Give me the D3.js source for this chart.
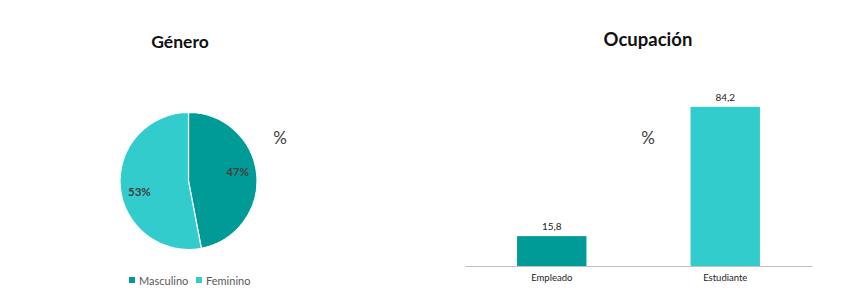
<!DOCTYPE html>
<html><head><meta charset="utf-8">
<script src="https://cdn.jsdelivr.net/npm/d3@7"></script>
<style>body{margin:0;background:#fff;font-family:Lato,"Open Sans",sans-serif}</style>
</head><body><svg id="c" width="847" height="298"></svg>
<script>
const genderCats = ["Masculino", "Feminino"];
const genderVals = [47, 53];
const genderLabels = ["47%", "53%"];
const occCats = ["Empleado", "Estudiante"];
const occVals = [15.8, 84.2];
const occLabels = ["15,8", "84,2"];
const colors = ["#009b96", "#33cccc"];

const svg = d3.select("#c");
svg.append("rect").attr("width",847).attr("height",298).attr("fill","#fff");

// ---- Pie ----
const cx = 188.5, cy = 181, r = 68.5;
const pie = d3.pie().sort(null).value(d => d)(genderVals);
const arc = d3.arc().innerRadius(0).outerRadius(r);
const g = svg.append("g").attr("transform", `translate(${cx},${cy})`);
g.selectAll("path").data(pie).enter().append("path")
  .attr("d", arc).attr("fill", (d,i) => colors[i])
  .attr("stroke", "#fff").attr("stroke-width", 1.2);
const lab = d3.arc().innerRadius(r*0.72).outerRadius(r*0.72);
const labShift = [-4, 6];
g.selectAll("text.l").data(pie).enter().append("text")
  .attr("x", d => lab.centroid(d)[0]).attr("y", (d,i) => lab.centroid(d)[1] + labShift[i])
  .attr("text-anchor","middle").attr("dy","0.35em")
  .attr("font-size", 11.5).attr("font-weight","bold").attr("fill","#404040")
  .text((d,i) => genderLabels[i]);

svg.append("text").attr("x",180).attr("y",48).attr("text-anchor","middle")
  .attr("font-size",17.5).attr("font-weight","bold").attr("fill","#111").text("Género");
svg.append("text").attr("x",280).attr("y",144).attr("text-anchor","middle")
  .attr("font-size",17).attr("fill","#404040").text("%");

// legend
const leg = svg.append("g");
const legX = [129, 196];
genderCats.forEach((c,i) => {
  leg.append("rect").attr("x", legX[i]).attr("y", 277).attr("width",6).attr("height",6).attr("fill", colors[i]);
  leg.append("text").attr("x", legX[i]+10).attr("y", 284.5).attr("font-size",11).attr("fill","#595959").text(c);
});

// ---- Bars ----
const x = d3.scaleBand().domain(occCats).range([465, 812]).paddingInner(0.6).paddingOuter(0.3);
const y = d3.scaleLinear().domain([0, 100]).range([266, 77]);
svg.selectAll("rect.b").data(occVals).enter().append("rect")
  .attr("x", (d,i) => x(occCats[i])).attr("width", x.bandwidth())
  .attr("y", d => y(d)).attr("height", d => y(0) - y(d))
  .attr("fill", (d,i) => colors[i]);
svg.selectAll("text.v").data(occVals).enter().append("text")
  .attr("x", (d,i) => x(occCats[i]) + x.bandwidth()/2).attr("y", d => y(d) - 6)
  .attr("text-anchor","middle").attr("font-size",10).attr("fill","#222")
  .text((d,i) => occLabels[i]);
const ax = svg.append("g").attr("transform","translate(0,266)").call(d3.axisBottom(x).tickSize(0).tickPadding(8));
ax.select(".domain").attr("stroke","#bfbfbf").attr("stroke-width",1.2);
ax.selectAll("text").attr("font-size",9.5).attr("fill","#222").attr("font-family","Lato,'Open Sans',sans-serif");

svg.append("text").attr("x",648).attr("y",46).attr("text-anchor","middle")
  .attr("font-size",18.5).attr("font-weight","bold").attr("fill","#111").text("Ocupación");
svg.append("text").attr("x",648).attr("y",144).attr("text-anchor","middle")
  .attr("font-size",17).attr("fill","#404040").text("%");
</script></body></html>
